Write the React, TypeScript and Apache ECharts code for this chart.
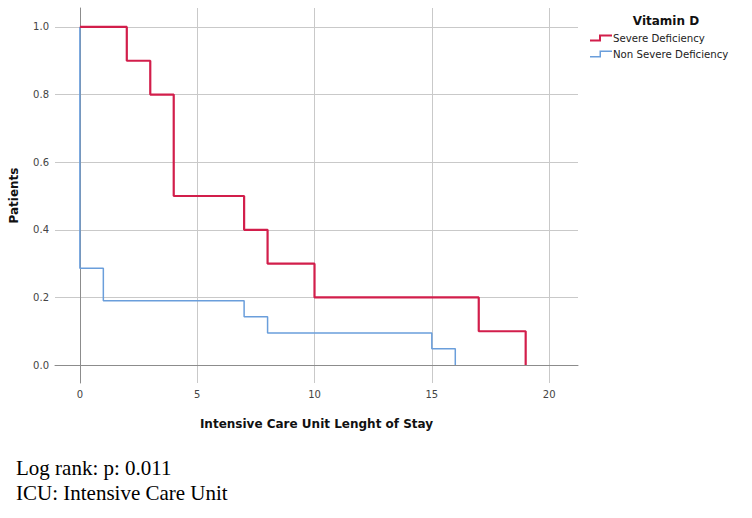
import React, { useEffect, useRef } from "react";
import * as echarts from "echarts";

const severeTimes = [0, 2, 3, 4, 7, 8, 10, 17, 19];
const severeSurvival = [1.0, 0.9, 0.8, 0.5, 0.4, 0.3, 0.2, 0.1, 0.0];
const nonSevereTimes = [0, 0, 1, 7, 8, 15, 16];
const nonSevereSurvival = [1.0, 0.286, 0.19, 0.143, 0.095, 0.048, 0.0];
const xTicks = [0, 5, 10, 15, 20];
const yTicks = [0, 0.2, 0.4, 0.6, 0.8, 1.0];
const seriesNames = ["Severe Deficiency", "Non Severe Deficiency"];
const legendTitle = "Vitamin D";
const xTitle = "Intensive Care Unit Lenght of Stay";
const yTitle = "Patients";
const footnotes = ["Log rank: p: 0.011", "ICU: Intensive Care Unit"];

const RED = "#d21e4b";
const BLUE = "#6a9edb";
const FONT = "DejaVu Sans";

export default function App() {
  const ref = useRef<HTMLDivElement>(null);
  useEffect(() => {
    if (!ref.current) return;
    const chart = echarts.init(ref.current, null, { renderer: "svg" });
    const severeData = severeTimes.map((t, i) => [t, severeSurvival[i]]);
    const nonSevereData = nonSevereTimes.map((t, i) => [t, nonSevereSurvival[i]]);
    chart.setOption({
      animation: false,
      backgroundColor: "#ffffff",
      grid: { left: 53, right: 174, top: 8, bottom: 135, containLabel: false },
      xAxis: {
        type: "value",
        min: -1.06,
        max: 21.23,
        name: xTitle,
        nameLocation: "middle",
        nameGap: 35,
        nameTextStyle: { fontFamily: FONT, fontWeight: "bold", fontSize: 12, color: "#111" },
        axisLine: { show: true, lineStyle: { color: "#8c8c8c", width: 1 } },
        axisTick: { show: false, customValues: xTicks },
        axisLabel: { customValues: xTicks, fontFamily: FONT, fontSize: 10, color: "#444", margin: 6 },
        splitLine: { show: true, lineStyle: { color: "#c9c9c9", width: 1 } },
      },
      yAxis: {
        type: "value",
        min: -0.053,
        max: 1.056,
        name: yTitle,
        nameLocation: "middle",
        nameRotate: 90,
        nameGap: 35,
        nameTextStyle: { fontFamily: FONT, fontWeight: "bold", fontSize: 12, color: "#111" },
        axisLine: { show: true, lineStyle: { color: "#8c8c8c", width: 1 } },
        axisTick: { show: false, customValues: yTicks },
        axisLabel: {
          customValues: yTicks,
          fontFamily: FONT,
          fontSize: 10,
          color: "#444",
          margin: 6,
          formatter: (v: number) => v.toFixed(1),
        },
        splitLine: { show: true, lineStyle: { color: "#c9c9c9", width: 1 } },
      },
      legend: {
        orient: "vertical",
        left: 590,
        top: 33,
        itemWidth: 22,
        itemHeight: 7,
        itemGap: 6,
        padding: 0,
        selectedMode: false,
        textStyle: { fontFamily: FONT, fontSize: 10.2, color: "#222", padding: [0, 0, 0, -4] },
        data: [
          { name: seriesNames[0], icon: "path://M0,5 L9,5 L9,0 L22,0 L22,2 L11,2 L11,7 L0,7 Z" },
          { name: seriesNames[1], icon: "path://M0,5.5 L9.5,5.5 L9.5,0 L22,0 L22,1.5 L11,1.5 L11,7 L0,7 Z" },
        ],
      },
      graphic: [
        {
          type: "text",
          x: 666,
          y: 21,
          style: {
            text: legendTitle,
            fontFamily: FONT,
            fontWeight: "bold",
            fontSize: 12,
            fill: "#111",
            align: "center",
            verticalAlign: "middle",
          },
        },
        {
          type: "text",
          x: 16,
          y: 468,
          style: {
            text: footnotes[0],
            fontFamily: "Liberation Serif",
            fontSize: 21,
            fill: "#000",
            align: "left",
            verticalAlign: "middle",
          },
        },
        {
          type: "text",
          x: 16,
          y: 493,
          style: {
            text: footnotes[1],
            fontFamily: "Liberation Serif",
            fontSize: 21,
            fill: "#000",
            align: "left",
            verticalAlign: "middle",
          },
        },
      ],
      series: [
        {
          name: seriesNames[1],
          type: "line",
          step: "end",
          data: nonSevereData,
          showSymbol: false,
          symbol: "none",
          itemStyle: { color: BLUE },
          lineStyle: { color: BLUE, width: 1.5 },
          z: 2,
        },
        {
          name: seriesNames[0],
          type: "line",
          step: "end",
          data: severeData,
          showSymbol: false,
          symbol: "none",
          itemStyle: { color: RED },
          lineStyle: { color: RED, width: 2.2 },
          z: 3,
        },
      ],
    });
    return () => chart.dispose();
  }, []);
  return (
    <div
      ref={ref}
      style={{ position: "fixed", left: 0, top: 0, width: 752, height: 518, background: "#fff" }}
    />
  );
}
